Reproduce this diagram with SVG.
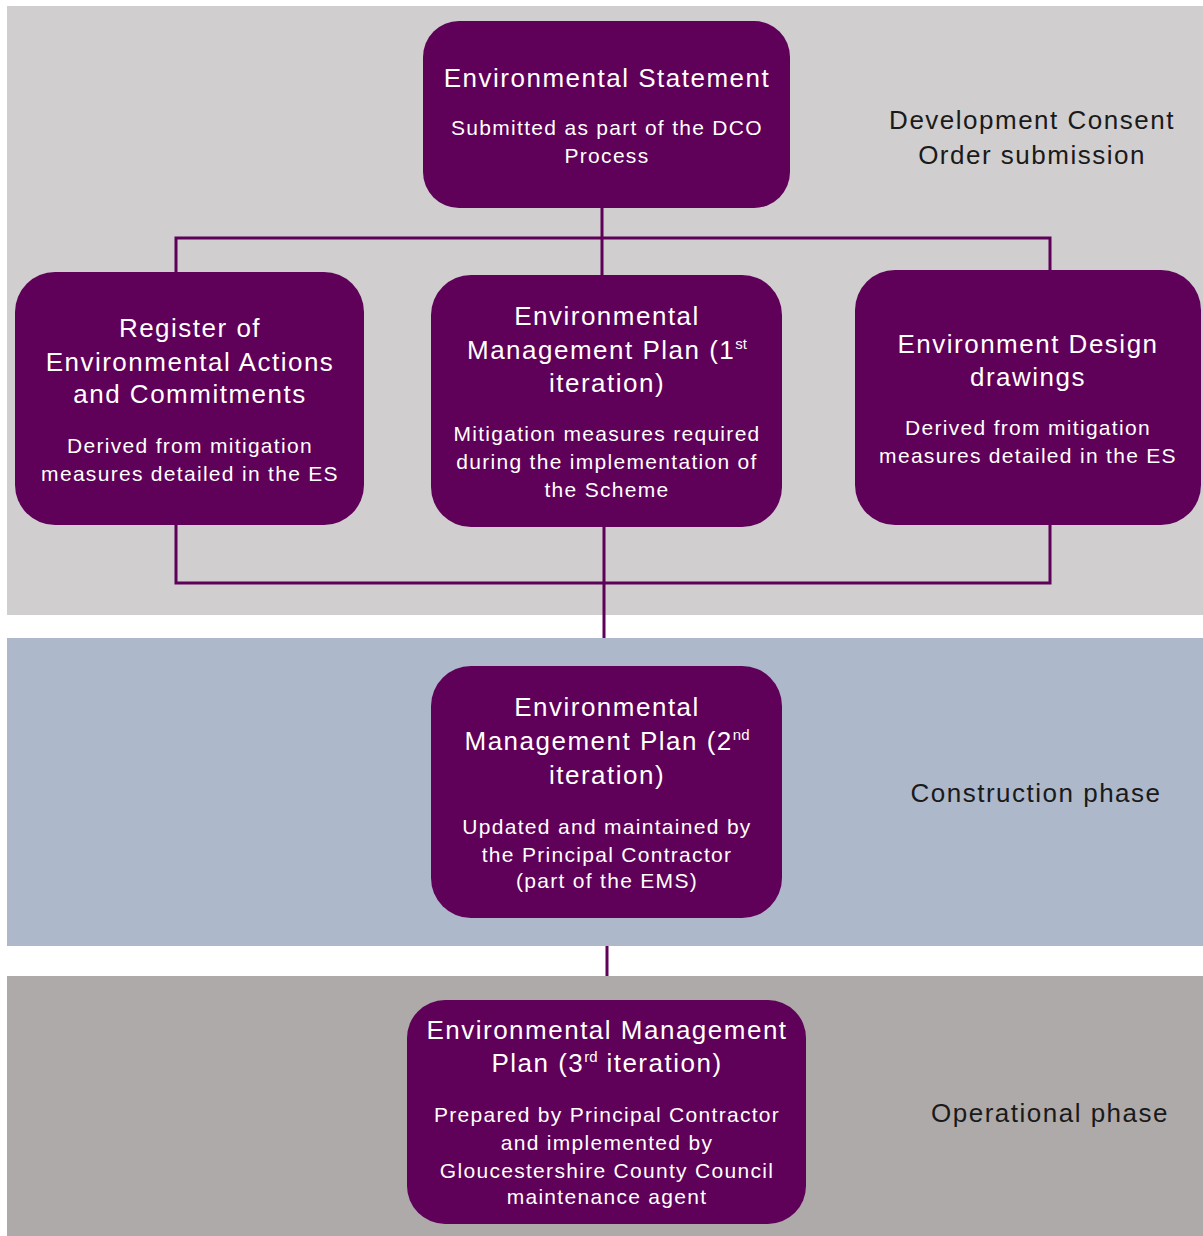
<svg xmlns="http://www.w3.org/2000/svg" width="1203" height="1236" viewBox="0 0 1203 1236">
<style>
.node{fill:#5f0059}
.t{font-family:"Liberation Sans",Arial,sans-serif;font-size:26px;letter-spacing:1.5px;fill:#ffffff;text-anchor:middle}
.s{font-family:"Liberation Sans",Arial,sans-serif;font-size:21px;letter-spacing:1.3px;fill:#ffffff;text-anchor:middle}
.p{font-family:"Liberation Sans",Arial,sans-serif;font-size:26px;letter-spacing:1.5px;fill:#1a1a1a;text-anchor:middle}
.c{stroke:#5f0059;stroke-width:3;fill:none}
.sup{font-size:15px;letter-spacing:0}
</style>
<rect width="1203" height="1236" fill="#ffffff"/>
<g id="bands">
<rect x="7" y="6" width="1196" height="609" fill="#d0cecf"/>
<rect x="7" y="638" width="1196" height="308" fill="#adb8ca"/>
<rect x="7" y="976" width="1196" height="260" fill="#aeaaaa"/>
</g>
<g id="phase-labels">
<text class="p" x="1032" y="129">Development Consent</text>
<text class="p" x="1032" y="164">Order submission</text>
<text class="p" x="1036" y="802">Construction phase</text>
<text class="p" x="1050" y="1122">Operational phase</text>
</g>
<g id="connectors">
<path class="c" d="M602,208 V275"/>
<path class="c" d="M176,272 V238 H1050 V270"/>
<path class="c" d="M176,525 V583 H1050 V525"/>
<path class="c" d="M604,527 V638"/>
<path class="c" d="M607,946 V976"/>
</g>
<g id="node-es">
<rect class="node" x="423" y="21" width="367" height="187" rx="36"/>
<text class="t" x="607" y="87">Environmental Statement</text>
<text class="s" x="607" y="135">Submitted as part of the DCO</text>
<text class="s" x="607" y="163">Process</text>
</g>
<g id="node-reac">
<rect class="node" x="15" y="272" width="349" height="253" rx="40"/>
<text class="t" x="190" y="337">Register of</text>
<text class="t" x="190" y="371">Environmental Actions</text>
<text class="t" x="190" y="403">and Commitments</text>
<text class="s" x="190" y="453">Derived from mitigation</text>
<text class="s" x="190" y="481">measures detailed in the ES</text>
</g>
<g id="node-emp1">
<rect class="node" x="431" y="275" width="351" height="252" rx="40"/>
<text class="t" x="607" y="325">Environmental</text>
<text class="t" x="607" y="359">Management Plan (1<tspan class="sup" dy="-10">st</tspan></text>
<text class="t" x="607" y="392">iteration)</text>
<text class="s" x="607" y="441">Mitigation measures required</text>
<text class="s" x="607" y="469">during the implementation of</text>
<text class="s" x="607" y="497">the Scheme</text>
</g>
<g id="node-edd">
<rect class="node" x="855" y="270" width="346" height="255" rx="40"/>
<text class="t" x="1028" y="353">Environment Design</text>
<text class="t" x="1028" y="386">drawings</text>
<text class="s" x="1028" y="435">Derived from mitigation</text>
<text class="s" x="1028" y="463">measures detailed in the ES</text>
</g>
<g id="node-emp2">
<rect class="node" x="431" y="666" width="351" height="252" rx="40"/>
<text class="t" x="607" y="716">Environmental</text>
<text class="t" x="607" y="750">Management Plan (2<tspan class="sup" dy="-10">nd</tspan></text>
<text class="t" x="607" y="784">iteration)</text>
<text class="s" x="607" y="834">Updated and maintained by</text>
<text class="s" x="607" y="862">the Principal Contractor</text>
<text class="s" x="607" y="888">(part of the EMS)</text>
</g>
<g id="node-emp3">
<rect class="node" x="407" y="1000" width="399" height="224" rx="38"/>
<text class="t" x="607" y="1039">Environmental Management</text>
<text class="t" x="607" y="1072">Plan (3<tspan class="sup" dy="-10">rd</tspan><tspan dy="10"> iteration)</tspan></text>
<text class="s" x="607" y="1122">Prepared by Principal Contractor</text>
<text class="s" x="607" y="1150">and implemented by</text>
<text class="s" x="607" y="1178">Gloucestershire County Council</text>
<text class="s" x="607" y="1204">maintenance agent</text>
</g>
</svg>
